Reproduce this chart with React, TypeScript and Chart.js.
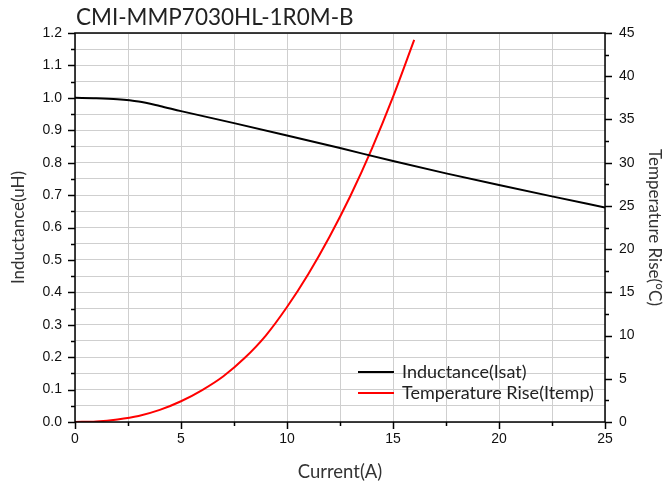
import React, { useEffect, useRef } from "react";
import { Chart, registerables } from "chart.js";

Chart.register(...registerables);

const chartTitle = "CMI-MMP7030HL-1R0M-B";
const xTitle = "Current(A)";
const yLeftTitle = "Inductance(uH)";
const yRightTitle = "Temperature Rise(°C)";

const inductanceLabel = "Inductance(Isat)";
const tempLabel = "Temperature Rise(Itemp)";

const currentL = [0, 1, 2, 3, 4, 5, 7.5, 10, 12.5, 15, 17.5, 20, 22.5, 25];
const inductance = [1.0, 0.999, 0.996, 0.989, 0.975, 0.959, 0.922, 0.884, 0.845, 0.805, 0.767, 0.731, 0.696, 0.662];

const currentT = [0, 1, 2, 3, 4, 5, 6, 7, 8, 9, 10, 11, 12, 13, 14, 15, 16];
const tempRise = [0, 0.07, 0.3, 0.7, 1.4, 2.4, 3.7, 5.3, 7.4, 10.0, 13.3, 17.1, 21.4, 26.2, 31.6, 37.6, 44.2];

const xRange = [0, 25];
const leftRange = [0, 1.2];
const rightRange = [0, 45];

const TITLE_FONT = "Lato, 'DejaVu Sans', sans-serif";
const TICK_FONT = "'Liberation Sans', Arial, sans-serif";

const isMajor = (v: number, step: number) => Math.abs(v / step - Math.round(v / step)) < 1e-6;

const decorPlugin = {
  id: "decor",
  afterDraw(chart: any) {
    const { ctx, chartArea: a, scales } = chart;
    ctx.save();
    ctx.strokeStyle = "#000";
    ctx.lineWidth = 1.5;
    const xs = scales.x;
    xs.ticks.forEach((t: any) => {
      const p = Math.round(xs.getPixelForValue(t.value)) + 0.5;
      const len = isMajor(t.value, 5) ? 7 : 4;
      ctx.beginPath();
      ctx.moveTo(p, a.bottom);
      ctx.lineTo(p, a.bottom + len);
      ctx.stroke();
    });
    const yl = scales.y;
    yl.ticks.forEach((t: any) => {
      const p = Math.round(yl.getPixelForValue(t.value)) + 0.5;
      const len = isMajor(t.value, 0.1) ? 7 : 4;
      ctx.beginPath();
      ctx.moveTo(a.left, p);
      ctx.lineTo(a.left - len, p);
      ctx.stroke();
    });
    const yr = scales.y1;
    yr.ticks.forEach((t: any) => {
      const p = Math.round(yr.getPixelForValue(t.value)) + 0.5;
      const len = isMajor(t.value, 5) ? 7 : 4;
      ctx.beginPath();
      ctx.moveTo(a.right, p);
      ctx.lineTo(a.right + len, p);
      ctx.stroke();
    });
    ctx.strokeRect(a.left, a.top, a.right - a.left, a.bottom - a.top);

    ctx.fillStyle = "#222";
    ctx.font = `22.5px ${TITLE_FONT}`;
    ctx.textAlign = "left";
    ctx.textBaseline = "alphabetic";
    ctx.fillText(chartTitle, 76, 25);

    ctx.font = `18px ${TITLE_FONT}`;
    ctx.textBaseline = "middle";
    const items = chart.data.datasets;
    const lx = 358;
    const ly = [372, 393];
    items.forEach((ds: any, i: number) => {
      ctx.strokeStyle = ds.borderColor;
      ctx.lineWidth = 2;
      ctx.beginPath();
      ctx.moveTo(lx, ly[i]);
      ctx.lineTo(lx + 36, ly[i]);
      ctx.stroke();
      ctx.fillStyle = "#222";
      ctx.fillText(ds.label, lx + 44, ly[i]);
    });
    ctx.restore();
  },
};

export default function App() {
  const ref = useRef<HTMLCanvasElement | null>(null);
  useEffect(() => {
    if (!ref.current) return;
    const chart = new Chart(ref.current, {
      type: "line",
      data: {
        datasets: [
          {
            label: inductanceLabel,
            data: currentL.map((x, i) => ({ x, y: inductance[i] })),
            borderColor: "#000000",
            borderWidth: 2,
            pointRadius: 0,
            cubicInterpolationMode: "monotone",
            yAxisID: "y",
          },
          {
            label: tempLabel,
            data: currentT.map((x, i) => ({ x, y: tempRise[i] })),
            borderColor: "#ff0000",
            borderWidth: 2,
            pointRadius: 0,
            cubicInterpolationMode: "monotone",
            yAxisID: "y1",
          },
        ],
      },
      options: {
        animation: false,
        responsive: false,
        devicePixelRatio: 1,
        layout: { padding: { top: 33, left: 0, right: 0, bottom: 0 } },
        plugins: {
          legend: { display: false },
          title: { display: false },
          tooltip: { enabled: false },
        },
        scales: {
          x: {
            type: "linear",
            min: xRange[0],
            max: xRange[1],
            border: { display: false },
            grid: { color: "#cfcfcf", lineWidth: 1, drawTicks: false },
            ticks: {
              stepSize: 2.5,
              padding: 9,
              color: "#111",
              font: { family: TICK_FONT, size: 14 },
              maxRotation: 0,
              autoSkip: false,
              callback: (v: any) => (isMajor(Number(v), 5) ? String(v) : ""),
            },
            title: {
              display: true,
              text: xTitle,
              color: "#333",
              font: { family: TITLE_FONT, size: 18.5 },
              padding: { top: 0, bottom: 5 },
            },
            afterFit: (s: any) => {
              s.height = 66;
            },
          },
          y: {
            type: "linear",
            position: "left",
            min: leftRange[0],
            max: leftRange[1],
            border: { display: false },
            grid: { color: "#cfcfcf", lineWidth: 1, drawTicks: false },
            ticks: {
              stepSize: 0.05,
              padding: 13,
              color: "#111",
              font: { family: TICK_FONT, size: 14 },
              autoSkip: false,
              callback: (v: any) => (isMajor(Number(v), 0.1) ? Number(v).toFixed(1) : ""),
            },
            title: {
              display: true,
              text: yLeftTitle,
              color: "#333",
              font: { family: TITLE_FONT, size: 17 },
              padding: { top: 8, bottom: 0 },
            },
            afterFit: (s: any) => {
              s.width = 75;
            },
          },
          y1: {
            type: "linear",
            position: "right",
            min: rightRange[0],
            max: rightRange[1],
            border: { display: false },
            grid: { display: false, drawTicks: false },
            ticks: {
              stepSize: 2.5,
              padding: 14,
              color: "#111",
              font: { family: TICK_FONT, size: 14 },
              autoSkip: false,
              callback: (v: any) => (isMajor(Number(v), 5) ? String(v) : ""),
            },
            title: {
              display: true,
              text: yRightTitle,
              color: "#333",
              font: { family: TITLE_FONT, size: 17 },
              padding: { top: 2, bottom: 0 },
            },
            afterFit: (s: any) => {
              s.width = 62;
            },
          },
        },
      } as any,
      plugins: [decorPlugin],
    });
    return () => chart.destroy();
  }, []);
  return (
    <div style={{ position: "fixed", left: 0, top: 0, width: 667, height: 488, background: "#fff" }}>
      <canvas ref={ref} width={667} height={488} style={{ width: 667, height: 488, display: "block" }} />
    </div>
  );
}
